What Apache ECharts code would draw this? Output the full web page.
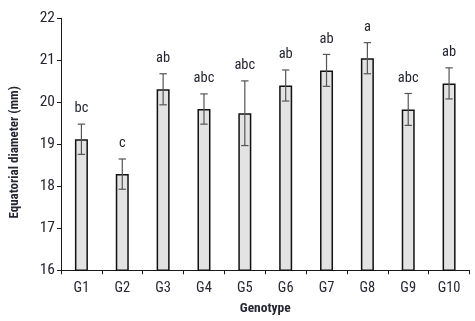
<!DOCTYPE html>
<html>
<head>
<meta charset="utf-8">
<script src="https://cdn.jsdelivr.net/npm/echarts@6/dist/echarts.min.js"></script>
<style>
  html, body { margin: 0; padding: 0; background: #fff; }
  #chart { width: 475px; height: 321px; }
</style>
</head>
<body>
<div id="chart"></div>
<script>
const genotypes = ['G1', 'G2', 'G3', 'G4', 'G5', 'G6', 'G7', 'G8', 'G9', 'G10'];
const means = [19.12, 18.29, 20.31, 19.84, 19.74, 20.40, 20.76, 21.05, 19.83, 20.45];
const errors = [0.36, 0.36, 0.37, 0.36, 0.77, 0.37, 0.38, 0.37, 0.38, 0.37];
const letters = ['bc', 'c', 'ab', 'abc', 'abc', 'ab', 'ab', 'a', 'abc', 'ab'];

const FONT = '"Roboto Condensed", Roboto, sans-serif';
const TEXT = '#262633';

const chart = echarts.init(document.getElementById('chart'));

const errData = genotypes.map((g, i) => [i, means[i] - errors[i], means[i] + errors[i]]);

chart.setOption({
  animation: false,
  grid: { left: 48.5, right: 5.5, top: 18.3, bottom: 50.7, containLabel: false },
  xAxis: {
    type: 'category',
    data: genotypes,
    boundaryGap: true,
    name: 'Genotype',
    nameLocation: 'middle',
    nameGap: 31,
    nameTextStyle: { color: TEXT, fontFamily: FONT, fontWeight: 'bold', fontSize: 13.5 },
    axisLine: { lineStyle: { color: '#1a1a1a', width: 1 } },
    axisTick: { show: true, length: 4, lineStyle: { color: '#1a1a1a' } },
    axisLabel: { color: TEXT, fontFamily: FONT, fontSize: 14.5, margin: 11 },
  },
  yAxis: {
    type: 'value',
    min: 16,
    max: 22,
    interval: 1,
    name: 'Equatorial diameter (mm)',
    nameLocation: 'middle',
    nameGap: 40,
    nameTextStyle: { color: TEXT, fontFamily: FONT, fontWeight: 'bold', fontSize: 13, padding: [0, 16, 0, 0] },
    splitLine: { show: false },
    axisLine: { show: true, lineStyle: { color: '#1a1a1a', width: 1 } },
    axisTick: { show: true, length: 4, lineStyle: { color: '#1a1a1a' } },
    axisLabel: { color: TEXT, fontFamily: FONT, fontSize: 15.5, margin: 6 },
  },
  series: [
    {
      type: 'bar',
      data: means,
      barWidth: 13,
      itemStyle: { color: '#e3e3e3', borderColor: '#111', borderWidth: 1.5 },
    },
    {
      type: 'custom',
      data: errData,
      z: 5,
      renderItem: (params, api) => {
        const x = api.coord([api.value(0), 0])[0];
        const lo = api.coord([api.value(0), api.value(1)])[1];
        const hi = api.coord([api.value(0), api.value(2)])[1];
        const cap = 3.7;
        const style = { stroke: '#555', lineWidth: 1.2 };
        return {
          type: 'group',
          children: [
            { type: 'line', shape: { x1: x, y1: lo, x2: x, y2: hi }, style },
            { type: 'line', shape: { x1: x - cap, y1: lo, x2: x + cap, y2: lo }, style },
            { type: 'line', shape: { x1: x - cap, y1: hi, x2: x + cap, y2: hi }, style },
            {
              type: 'text',
              style: {
                text: letters[params.dataIndex],
                x: x,
                y: hi - 8,
                align: 'center',
                verticalAlign: 'bottom',
                fill: TEXT,
                font: '14.5px ' + FONT,
              },
            },
          ],
        };
      },
    },
  ],
});
</script>
</body>
</html>
